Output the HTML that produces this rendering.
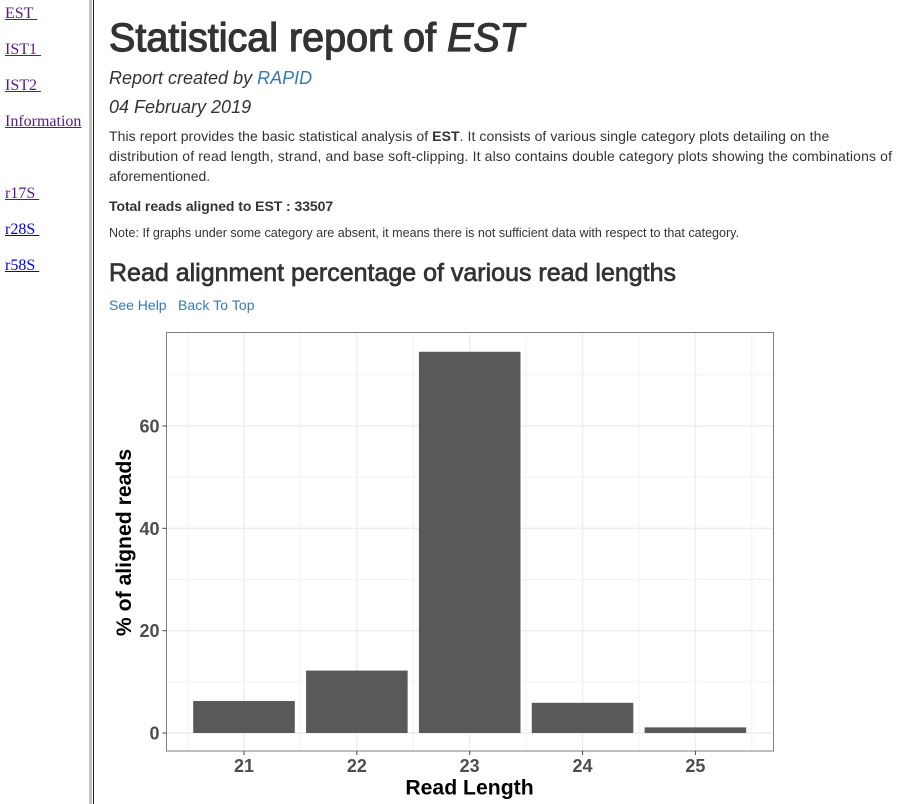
<!DOCTYPE html>
<html>
<head>
<meta charset="utf-8">
<style>
html,body{margin:0;padding:0;background:#fff;width:905px;height:804px;overflow:hidden}
body{position:relative;font-family:"Liberation Sans",sans-serif;color:#333}
.t{position:absolute;white-space:nowrap;margin:0}
.nav{position:absolute;left:5px;font-family:"Liberation Serif",serif;font-size:16px;line-height:18px;text-decoration:underline;white-space:pre}
.v{color:#551a8b}.u{color:#0000ee}
a.l{color:#337ab7;text-decoration:none}
svg{position:absolute;left:0;top:0}
</style>
</head>
<body>
<div style="position:absolute;left:89px;top:0;width:3px;height:804px;background:#c4c4c4"></div>
<div style="position:absolute;left:93px;top:0;width:1px;height:804px;background:#222"></div>

<a class="nav v" style="top:5px">EST </a>
<a class="nav v" style="top:41px">IST1 </a>
<a class="nav v" style="top:77px">IST2 </a>
<a class="nav v" style="top:113px">Information</a>
<a class="nav v" style="top:185px">r17S </a>
<a class="nav u" style="top:221px">r28S </a>
<a class="nav u" style="top:257px">r58S </a>

<h1 class="t" style="left:109px;top:16px;font-size:39.5px;line-height:44px;font-weight:normal;-webkit-text-stroke:1.2px #333">Statistical report of <i>EST</i></h1>
<div class="t" style="left:109px;top:68px;font-size:18px;line-height:20px;font-style:italic">Report created by <a class="l">RAPID</a></div>
<div class="t" style="left:109px;top:97px;font-size:18px;line-height:20px;font-style:italic">04 February 2019</div>
<div class="t" style="left:109px;top:126px;font-size:14px;line-height:20px;letter-spacing:.075px">This report provides the basic statistical analysis of <b>EST</b>. It consists of various single category plots detailing on the</div>
<div class="t" style="left:109px;top:146px;font-size:14px;line-height:20px;letter-spacing:.13px">distribution of read length, strand, and base soft-clipping. It also contains double category plots showing the combinations of</div>
<div class="t" style="left:109px;top:166px;font-size:14px;line-height:20px">aforementioned.</div>
<div class="t" style="left:109px;top:196px;font-size:14px;line-height:20px;font-weight:bold;letter-spacing:-.06px">Total reads aligned to EST : 33507</div>
<div class="t" style="left:109px;top:223px;font-size:12.55px;line-height:20px">Note: If graphs under some category are absent, it means there is not sufficient data with respect to that category.</div>
<h2 class="t" style="left:109px;top:258px;font-size:25px;line-height:30px;font-weight:normal;-webkit-text-stroke:.7px #333">Read alignment percentage of various read lengths</h2>
<a class="t l" style="left:109px;top:295px;font-size:14px;line-height:20px">See Help</a>
<a class="t l" style="left:178px;top:295px;font-size:14px;line-height:20px;letter-spacing:.08px">Back To Top</a>

<svg id="chart" width="905" height="804" xmlns="http://www.w3.org/2000/svg"></svg>

<script>
var categories = ['21', '22', '23', '24', '25'];
var percentages = [6.25, 12.2, 74.5, 5.9, 1.1];
var yTicks = [0, 20, 40, 60];
var yMinorTicks = [10, 30, 50, 70];

var NS = 'http://www.w3.org/2000/svg';
var svg = document.getElementById('chart');
var panel = {left: 166.5, right: 773.5, top: 332.5, bottom: 751};
function xScale(i) { return 244 + i * 112.85; }
function yScale(v) { return 733 - v * 5.117; }
var barWidth = 0.9 * 112.85;

function add(tag, attrs, text) {
  var el = document.createElementNS(NS, tag);
  for (var k in attrs) el.setAttribute(k, attrs[k]);
  if (text !== undefined) el.textContent = text;
  svg.appendChild(el);
  return el;
}
var el;
yMinorTicks.forEach(function (v) {
  el = add('line', {x1: panel.left, x2: panel.right, y1: yScale(v), y2: yScale(v), stroke: '#f2f2f2', 'stroke-width': 1});
  
  
});
categories.forEach(function (c, i) {
  if (i === 0) {
    el = add('line', {x1: xScale(-0.5), x2: xScale(-0.5), y1: panel.top, y2: panel.bottom, stroke: '#f2f2f2', 'stroke-width': 1});
    
    
  }
  el = add('line', {x1: xScale(i + 0.5), x2: xScale(i + 0.5), y1: panel.top, y2: panel.bottom, stroke: '#f2f2f2', 'stroke-width': 1});
  
  
  el = add('line', {x1: xScale(i), x2: xScale(i), y1: panel.top, y2: panel.bottom, stroke: '#eeeeee', 'stroke-width': 1.5});
  
  
});
yTicks.forEach(function (v) {
  el = add('line', {x1: panel.left, x2: panel.right, y1: yScale(v), y2: yScale(v), stroke: '#eeeeee', 'stroke-width': 1.5});
  
  
});
percentages.forEach(function (v, i) {
  el = add('rect', {x: xScale(i) - barWidth / 2, y: yScale(v), width: barWidth, height: yScale(0) - yScale(v), fill: '#595959'});
  
  
});
el = add('rect', {x: panel.left, y: panel.top, width: panel.right - panel.left, height: panel.bottom - panel.top, fill: 'none', stroke: '#7f7f7f', 'stroke-width': 1});


yTicks.forEach(function (v) {
  el = add('line', {x1: panel.left - 4, x2: panel.left, y1: yScale(v), y2: yScale(v), stroke: '#444', 'stroke-width': 1});
  
  
  el = add('text', {x: panel.left - 7, y: yScale(v) + 6.5, 'text-anchor': 'end', 'font-size': 18, 'font-weight': 'bold', fill: '#4d4d4d', 'font-family': '"Liberation Sans", sans-serif'}, String(v));
  
  
});
categories.forEach(function (c, i) {
  el = add('line', {x1: xScale(i), x2: xScale(i), y1: panel.bottom, y2: panel.bottom + 4, stroke: '#444', 'stroke-width': 1});
  
  
  el = add('text', {x: xScale(i), y: 772, 'text-anchor': 'middle', 'font-size': 18, 'font-weight': 'bold', fill: '#4d4d4d', 'font-family': '"Liberation Sans", sans-serif'}, c);
  
  
});
el = add('text', {x: 469.5, y: 794.5, 'text-anchor': 'middle', 'font-size': 21.2, 'font-weight': 'bold', fill: '#000', 'font-family': '"Liberation Sans", sans-serif'}, 'Read Length');


el = add('text', {x: 0, y: 0, transform: 'translate(131,542.5) rotate(-90)', 'text-anchor': 'middle', 'font-size': 21.2, 'font-weight': 'bold', fill: '#000', 'font-family': '"Liberation Sans", sans-serif'}, '% of aligned reads');


</script>
</body>
</html>
